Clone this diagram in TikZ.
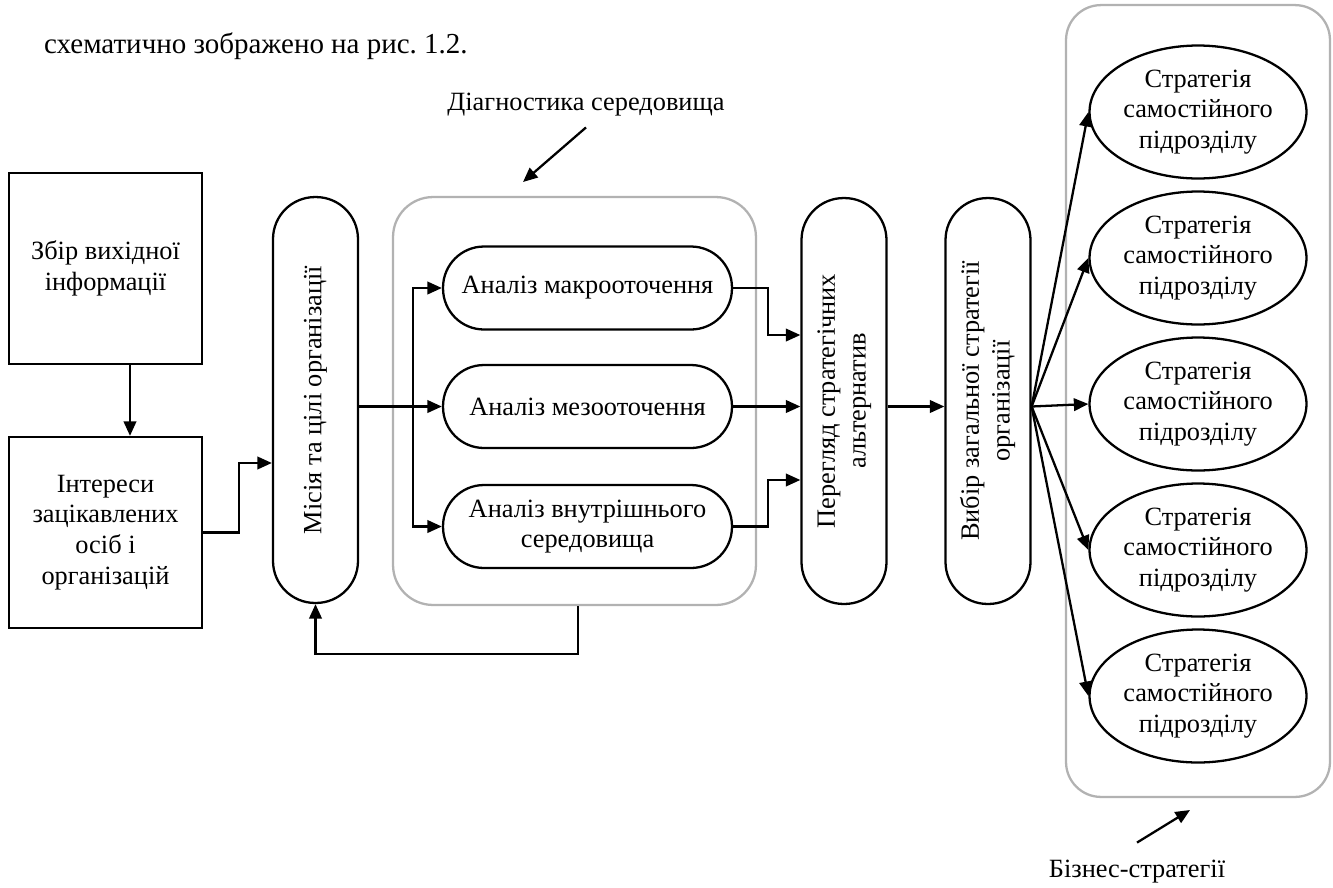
\documentclass[tikz,border=0pt]{standalone}
\usepackage{fontspec}
\setmainfont{Liberation Serif}
\usepackage{graphicx}
\usetikzlibrary{shapes.geometric,arrows.meta}
\newcommand{\dfont}{\fontsize{15}{17.5}\selectfont}
\frenchspacing
\begin{document}
\begin{tikzpicture}[x=0.02cm, y=-0.02cm, line width=1.3pt,
  box/.style={draw, minimum width=3.86cm, minimum height=3.82cm, align=center, font=\dfont},
  vpill/.style={draw, rounded corners=0.84cm, minimum width=1.7cm, minimum height=8.12cm, font=\dfont},
  hpill/.style={draw, rounded corners=0.82cm, minimum width=5.78cm, minimum height=1.66cm, align=center, font=\dfont},
  strat/.style={draw, ellipse, minimum width=4.34cm, minimum height=2.66cm, inner sep=0pt, align=center, font=\dfont},
  group/.style={draw=black!30, line width=1.3pt, rounded corners=0.8cm},
  conn/.style={-{Triangle[length=0.29cm,width=0.25cm]}},
  lbl/.style={font=\dfont, inner sep=1pt}]
\useasboundingbox (0,0) rectangle (1333,887);
\node[anchor=base west, inner sep=0pt, font=\fontsize{16.5}{20}\selectfont] (txt) at (43,53) {схематично зображено на рис. 1.2.};
% groups
\node[group, minimum width=7.26cm, minimum height=8.16cm] (diag) at (574.5,401) {};
\node[group, rounded corners=0.7cm, minimum width=5.28cm, minimum height=15.84cm] (bus) at (1198,401) {};
% blocks
\node[box] (zbir) at (105.5,268.5) {Збір вихідної\\інформації};
\node[box] (inter) at (105.5,532.5) {Інтереси\\зацікавлених\\осіб і\\організацій};
\node[vpill] (mis) at (315.5,400) {\rotatebox{90}{Місія та цілі організації}};
\node[hpill] (mac) at (587.5,288) {Аналіз макрооточення};
\node[hpill] (mez) at (587.5,406.5) {Аналіз мезооточення};
\node[hpill] (vnu) at (587.5,526.5) {Аналіз внутрішнього\\середовища};
\node[vpill] (per) at (844,401) {\rotatebox{90}{\begin{tabular}{@{}c@{}}Перегляд стратегічних\\альтернатив\end{tabular}}};
\node[vpill] (vyb) at (988,401) {\rotatebox{90}{\begin{tabular}{@{}c@{}}Вибір загальної стратегії\\організації\end{tabular}}};
\foreach \i/\y in {1/112,2/258,3/404,4/550,5/696}
  \node[strat] (s\i) at (1198,\y) {Стратегія\\самостійного\\підрозділу};
% labels
\node[lbl] (dlab) at (586,105) {Діагностика середовища};
\coordinate (dtip) at (523,182);
\draw[conn] ([yshift=-0.16cm]dlab.south) -- (dtip);
\node[lbl] (blab) at (1137,872) {Бізнес-стратегії};
\coordinate (btip) at (1190,810);
\draw[conn] ([yshift=0.3cm]blab.north) -- (btip);
% connectors
\draw[conn] ([xshift=0.49cm]zbir.south) -- ([xshift=0.49cm]inter.north);
\draw[conn] (inter.east) -- ++(36,0) |- ([yshift=-1.26cm]mis.west);
\coordinate (sp) at (413,406.5);
\draw (mis.east |- mez.west) -- (sp);
\draw[conn] (sp) -- (mez.west);
\draw[conn] (sp) |- (mac.west);
\draw[conn] (sp) |- (vnu.west);
\draw[conn] (mac.east) -- ++(35,0) |- ([yshift=1.32cm]per.west);
\draw[conn] (mez.east) -- (mez.east -| per.west);
\draw[conn] (vnu.east) -- ++(35,0) |- ([yshift=-1.58cm]per.west);
\draw[conn] (per.east |- mez.east) -- (vyb.west |- mez.east);
\coordinate (fan) at (vyb.east |- mez.east);
\foreach \i in {1,...,5}
  \draw[conn] (fan) -- (s\i.west);
\draw[conn] ([xshift=0.07cm]diag.south) -- ++(0,48) -| (mis.south);
\end{tikzpicture}
\end{document}
